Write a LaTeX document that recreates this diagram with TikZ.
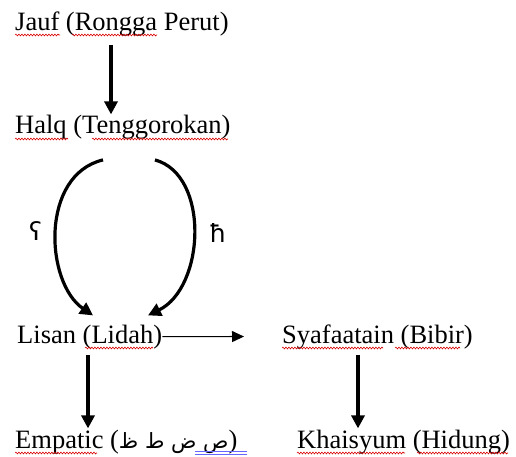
\documentclass[tikz,border=0pt]{standalone}
\usepackage{fontspec}
\setmainfont{Liberation Serif}
\newfontfamily\arabicfont[Script=Arabic]{DejaVu Sans}
\newfontfamily\ipafont{DejaVu Sans}
\TeXXeTstate=1
\usetikzlibrary{arrows.meta,positioning,calc,decorations.pathmorphing}
\tikzset{
  organ/.style={anchor=base west,inner sep=0pt,font=\fontsize{26.5}{31}\selectfont},
  flow/.style={-{Triangle[length=13pt,width=13pt]},line width=3.2pt},
  thinflow/.style={-{Triangle[length=12pt,width=11pt]},line width=1.1pt},
  sound/.style={font=\ipafont\fontsize{25}{29}\selectfont,inner sep=0pt},
  squig/.style={draw=red!85!black,line width=0.6pt,decorate,
    decoration={snake,amplitude=0.9pt,segment length=3pt}},
  dbl/.style={draw=blue!60,line width=0.6pt},
}

\begin{document}
\begin{tikzpicture}[x=1pt,y=-1pt]
  \useasboundingbox (0,0) rectangle (516,457);

  % organs
  \node[organ] (jauf) at (15,31) {Jauf (Rongga Perut)};
  \node[organ] (halq) at (15,134) {Halq (Tenggorokan)};
  \node[organ] (lisan) at (17,343) {Lisan (Lidah)};
  \node[organ] (syaf) at (282,343) {Syafaatain (Bibir)};
  \node[organ] (empatic) at (15,448) {Empatic ({\arabicfont\fontsize{21}{25}\selectfont\beginR ص ض ط ظ\endR})};
  \node[organ] (khaisyum) at (297,448) {Khaisyum (Hidung)};

  % connectors
  \draw[flow] ([xshift=96pt,yshift=-8pt]jauf.south west) -- ([xshift=96pt,yshift=1pt]halq.north west);
  \draw[flow] ([xshift=88pt,yshift=-20pt]halq.south west)
    .. controls +(-63,15) and +(-48,-33) .. ([xshift=76pt,yshift=9pt]lisan.north west)
    node[sound,pos=0.5,left=13pt] (ain) {ʕ};
  \draw[flow] ([xshift=140pt,yshift=-20pt]halq.south west)
    .. controls +(55,15) and +(57,-28) .. ([xshift=131pt,yshift=9pt]lisan.north west)
    node[sound,pos=0.5,right=14pt] (ha) {ħ};
  \draw[thinflow] (lisan.east) -- ([xshift=-38pt]syaf.west);
  \draw[flow] ([xshift=71pt,yshift=-6pt]lisan.south west) -- ([xshift=73pt,yshift=1pt]empatic.north west);
  \draw[flow] ([xshift=76pt,yshift=-6pt]syaf.south west) -- ([xshift=61pt,yshift=1pt]khaisyum.north west);

  % spelling marks
  \foreach \xa/\xb/\yy in {15/60/35,72/157/35,15/68/139,92/228/139,
    85/153/348,282/383/348,395/460/348,15/97/453,297/405/453,417/508/453}
    \draw[squig] (\xa,\yy) -- (\xb,\yy);
  \draw[dbl] (195,451.5) -- (247,451.5) (195,454) -- (247,454);
\end{tikzpicture}
\end{document}
